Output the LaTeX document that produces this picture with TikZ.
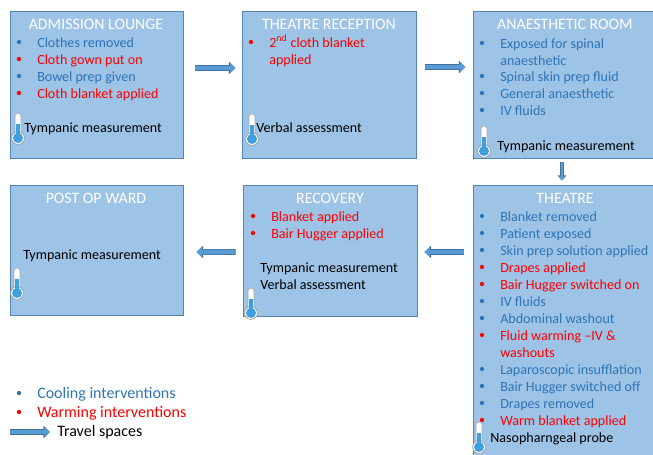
\documentclass[tikz,border=0pt]{standalone}
\usepackage{fontspec}
\setmainfont{Carlito}
\usetikzlibrary{arrows.meta,calc}
\definecolor{boxfill}{HTML}{9DC3E6}
\definecolor{boxline}{HTML}{5585B5}
\definecolor{cool}{HTML}{2E75B6}
\definecolor{warm}{HTML}{FF0000}
\definecolor{arrowfill}{HTML}{5B9BD5}
\definecolor{arrowline}{HTML}{41719C}
\definecolor{mercury}{HTML}{3FA0E0}
\newcommand{\bodysize}{\fontsize{10.55}{12}\selectfont}
\newcommand{\headsize}{\fontsize{11.9}{13}\selectfont}
\newcommand{\legendsize}{\fontsize{12}{14}\selectfont}
\tikzset{
  x=0.75pt,y=-0.75pt,
  room/.style={draw=boxline,fill=boxfill,line width=0.7pt},
  head/.style={text=white,font=\headsize,inner sep=0pt,anchor=base},
  lbl/.style={font=\bodysize,inner sep=0pt,anchor=base west},
  coolt/.style={lbl,text=cool},
  warmt/.style={lbl,text=warm},
  blackt/.style={lbl,text=black},
  dotc/.style={circle,fill=cool,minimum size=3.2pt,inner sep=0pt},
  dotw/.style={circle,fill=warm,minimum size=3.2pt,inner sep=0pt},
  flow/.style={line width=3.4pt,draw=arrowfill,
    -{Triangle[length=4pt,width=7.6pt,fill=arrowfill,color=arrowfill]},
    preaction={draw=arrowline,line width=4.4pt,
      -{Triangle[length=5pt,width=9.2pt,fill=arrowline,color=arrowline]}}},
  flowthin/.style={line width=2pt,draw=arrowfill,
    -{Triangle[length=3pt,width=5pt,fill=arrowfill,color=arrowfill]},
    preaction={draw=arrowline,line width=2.8pt,
      -{Triangle[length=3.8pt,width=6.2pt,fill=arrowline,color=arrowline]}}},
  thermo/.pic={
    \fill[white,draw=black!35,line width=0.4pt] (-3,-22) arc (180:360:3) -- (3,-3) -- (-3,-3) -- cycle;
    \fill[white,draw=black!40,line width=0.5pt] (0,0) circle (6.4);
    \fill[mercury] (0,0) circle (5);
    \fill[mercury] (-1.6,-14) rectangle (1.6,-2);
  }
}
\begin{document}
\begin{tikzpicture}
\useasboundingbox (0,0) rectangle (653,454);
% rooms
\node[room,minimum width=129.75pt,minimum height=110.25pt,inner sep=0pt] (adm) at (96.5,84.5) {};
\node[room,minimum width=130.5pt,minimum height=110.25pt,inner sep=0pt] (rec) at (329,84.5) {};
\node[room,minimum width=140.25pt,minimum height=110.25pt,inner sep=0pt] (ana) at (566.5,84.5) {};
\node[room,minimum width=140.25pt,minimum height=206.25pt,inner sep=0pt] (the) at (566.5,322.5) {};
\node[room,minimum width=130.5pt,minimum height=98.25pt,inner sep=0pt] (rcv) at (330,250.5) {};
\node[room,minimum width=129.75pt,minimum height=97.5pt,inner sep=0pt] (pos) at (96.5,250) {};
% headings
\node[head] (h1) at (96,29) {ADMISSION LOUNGE};
\node[head] (h2) at (329,29) {THEATRE RECEPTION};
\node[head] (h3) at (565,29) {ANAESTHETIC ROOM};
\node[head] (h4) at (565,203) {THEATRE};
\node[head] (h5) at (330,203) {RECOVERY};
\node[head] (h6) at (96,203) {POST OP WARD};
% admission
\node[dotc] (a1b) at (19,42) {}; \node[coolt] (a1) at (37,47) {Clothes removed};
\node[dotw] (a2b) at (19,59) {}; \node[warmt] (a2) at (37,64) {Cloth gown put on};
\node[dotc] (a3b) at (19,76) {}; \node[coolt] (a3) at (37,81) {Bowel prep given};
\node[dotw] (a4b) at (19,93) {}; \node[warmt] (a4) at (37,98) {Cloth blanket applied};
\node[blackt] (a5) at (24,132) {Tympanic measurement};
% reception
\node[dotw] (r1b) at (251,42) {}; \node[warmt] (r1) at (269,47) {2\textsuperscript{nd} cloth blanket};
\node[warmt] (r2) at (269,64) {applied};
\node[blackt] (r3) at (256,132) {Verbal assessment};
% anaesthetic
\node[dotc] (n1b) at (482,43) {}; \node[coolt] (n1) at (500,48) {Exposed for spinal};
\node[coolt] (n2) at (500,65) {anaesthetic};
\node[dotc] (n3b) at (482,76) {}; \node[coolt] (n3) at (500,81) {Spinal skin prep fluid};
\node[dotc] (n4b) at (482,93) {}; \node[coolt] (n4) at (500,98) {General anaesthetic};
\node[dotc] (n5b) at (482,110) {}; \node[coolt] (n5) at (500,115) {IV fluids};
\node[blackt] (n6) at (497,150) {Tympanic measurement};
% theatre
\node[dotc] (t1b) at (482,216) {}; \node[coolt] (t1) at (500,221) {Blanket removed};
\node[dotc] (t2b) at (482,233) {}; \node[coolt] (t2) at (500,238) {Patient exposed};
\node[dotc] (t3b) at (482,250) {}; \node[coolt] (t3) at (500,255) {Skin prep solution applied};
\node[dotw] (t4b) at (482,267) {}; \node[warmt] (t4) at (500,272) {Drapes applied};
\node[dotw] (t5b) at (482,284) {}; \node[warmt] (t5) at (500,289) {Bair Hugger switched on};
\node[dotc] (t6b) at (482,301) {}; \node[coolt] (t6) at (500,306) {IV fluids};
\node[dotc] (t7b) at (482,318) {}; \node[coolt] (t7) at (500,323) {Abdominal washout};
\node[dotw] (t8b) at (482,335) {}; \node[warmt] (t8) at (500,340) {Fluid warming –IV \&};
\node[warmt] (t9) at (500,357) {washouts};
\node[dotc] (t10b) at (482,369) {}; \node[coolt] (t10) at (500,374) {Laparoscopic insufflation};
\node[dotc] (t11b) at (482,386) {}; \node[coolt] (t11) at (500,391) {Bair Hugger switched off};
\node[dotc] (t12b) at (482,403) {}; \node[coolt] (t12) at (500,408) {Drapes removed};
\node[dotw] (t13b) at (482,420) {}; \node[warmt] (t13) at (500,425) {Warm blanket applied};
\node[blackt] (t14) at (490,442) {Nasopharngeal probe};
% recovery
\node[dotw] (v1b) at (253,216) {}; \node[warmt] (v1) at (271,221) {Blanket applied};
\node[dotw] (v2b) at (253,233) {}; \node[warmt] (v2) at (271,238) {Bair Hugger applied};
\node[blackt] (v3) at (260,272) {Tympanic measurement};
\node[blackt] (v4) at (260,289) {Verbal assessment};
% post op
\node[blackt] (p1) at (23,259) {Tympanic measurement};
% legend
\node[dotc] (l1b) at (19,393) {}; \node[coolt,font=\legendsize] (l1) at (37,398) {Cooling interventions};
\node[dotw] (l2b) at (19,412) {}; \node[warmt,font=\legendsize] (l2) at (37,417) {Warming interventions};
\node[blackt,font=\legendsize] (l3) at (57,436) {Travel spaces};
\coordinate (ls) at (10,432);
\coordinate (le) at (50,432);
% thermometers
\pic at (18,138) {thermo};
\pic at (252,139) {thermo};
\pic at (484,151) {thermo};
\pic at (17,293) {thermo};
\pic at (251,313) {thermo};
\pic at (479,447) {thermo};
% flows
\draw[flow] ([xshift=9pt,yshift=12.4pt]adm.east) -- ([xshift=-4.5pt,yshift=12.4pt]rec.west);
\draw[flow] ([xshift=6.75pt,yshift=13.1pt]rec.east) -- ([xshift=-5.25pt,yshift=13.1pt]ana.west);
\draw[flowthin] ([xshift=-3.4pt,yshift=-3pt]ana.south) -- ([xshift=-3.4pt,yshift=3pt]the.north);
\draw[flow] ([xshift=-6.75pt,yshift=52.9pt]the.west) -- ([xshift=5.25pt,yshift=-1.1pt]rcv.east);
\draw[flow] ([xshift=-5.25pt,yshift=-1.1pt]rcv.west) -- ([xshift=9.75pt,yshift=-1.5pt]pos.east);
\draw[flow] (ls) -- (le);
\end{tikzpicture}
\end{document}
